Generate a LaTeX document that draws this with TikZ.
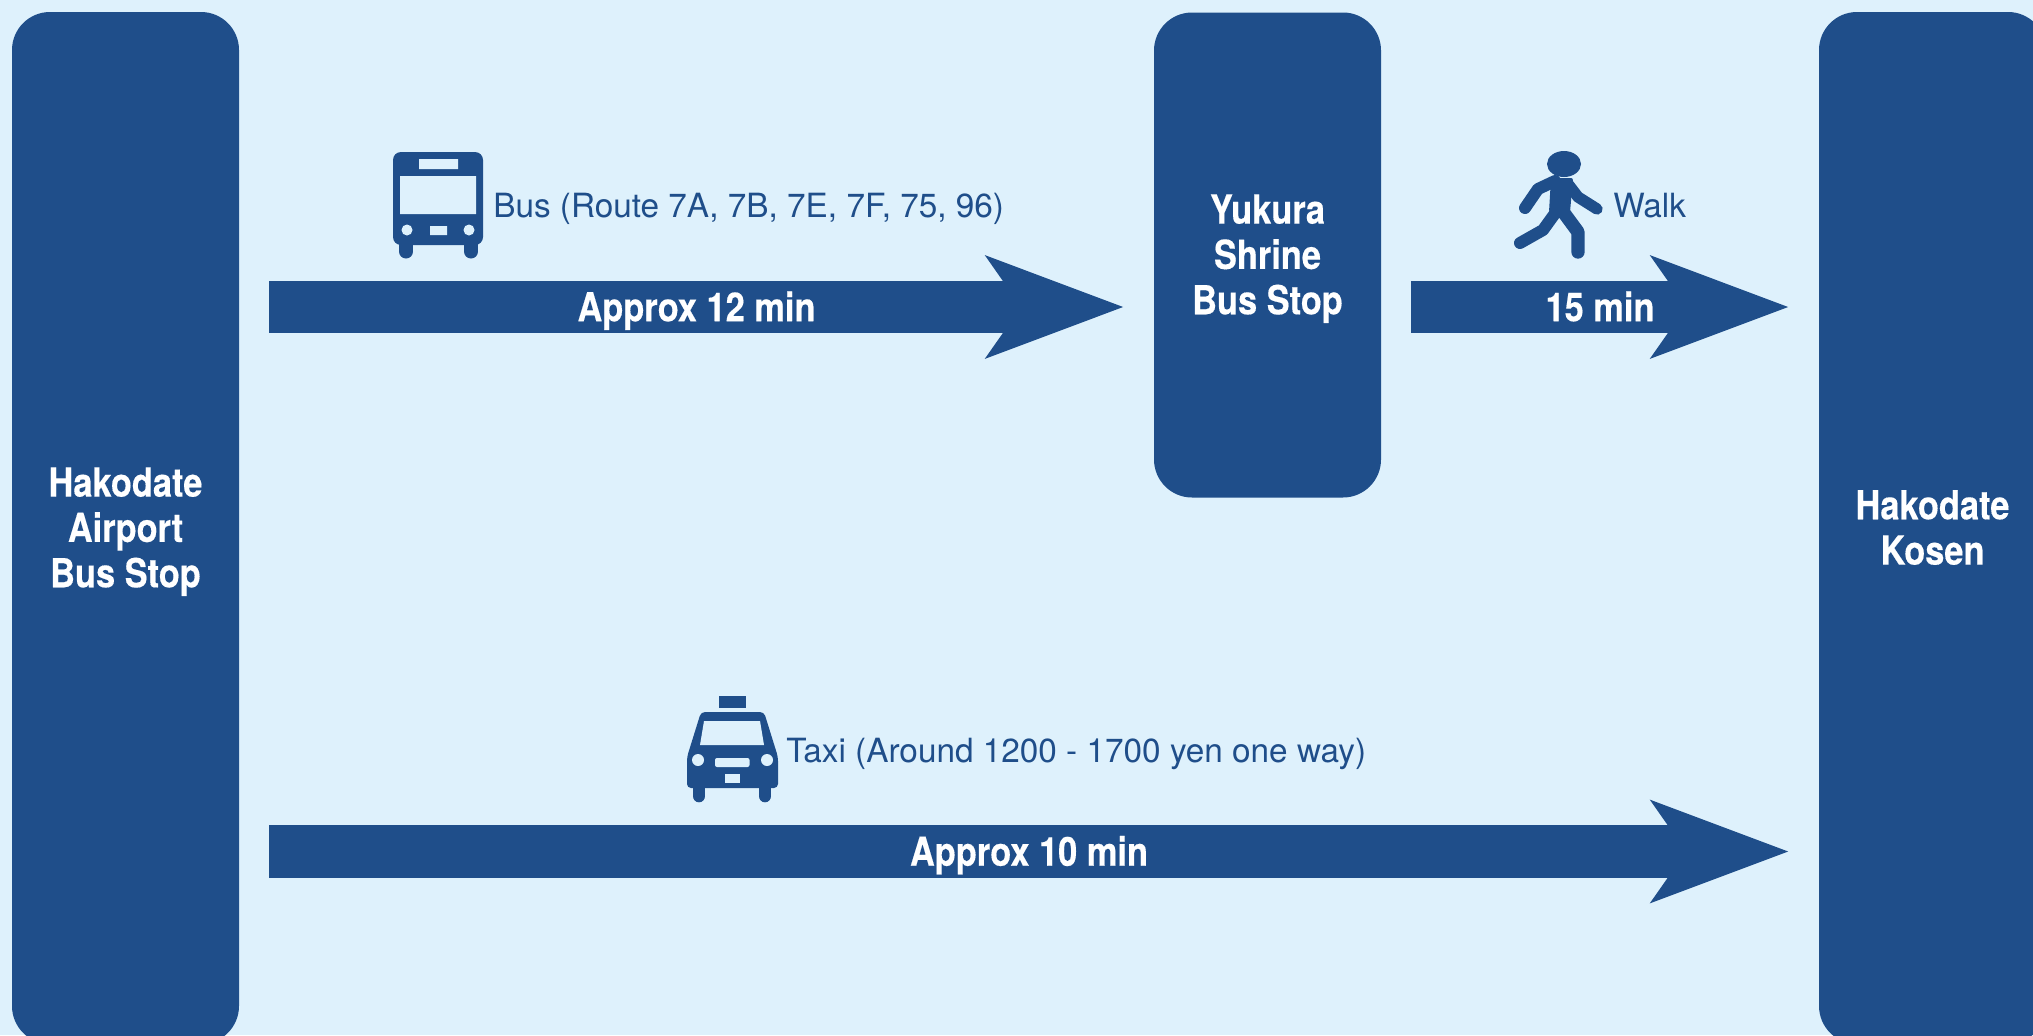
\documentclass[tikz,border=0pt]{standalone}
\usepackage{fontspec}
\usepackage{tikz}
\usetikzlibrary{arrows.meta}
\setmainfont{TeX Gyre Heros}
\newfontfamily\labelfont[BoldFeatures={FakeStretch=0.86,FakeBold=0.3}]{TeX Gyre Heros}
\definecolor{navyblue}{RGB}{31,78,138}
\definecolor{paleblue}{RGB}{222,241,252}
\tikzset{
  stop box/.style={
    fill=navyblue, text=white, rounded corners=28.5pt, inner sep=0pt,
    minimum width=170.25pt, align=center, text depth=1pt,
    font=\labelfont\bfseries\fontsize{30}{34}\selectfont
  },
  run arrow/.style={
    navyblue, line width=39.5pt,
    -{Stealth[length=102pt,width=74.5pt,inset=25pt]}
  },
  run label/.style={
    text=white, inner sep=0pt, text depth=1pt,
    font=\labelfont\bfseries\fontsize{30}{34}\selectfont
  },
  mode label/.style={
    text=navyblue, anchor=west, inner sep=0pt, text height=18pt, text depth=0pt,
    font=\fontsize{25}{30}\selectfont
  },
  limb/.style={
    draw=navyblue, line cap=round, line join=round
  }
}
\begin{document}
\begin{tikzpicture}[x=0.75pt,y=0.75pt,yscale=-1,xscale=1]
\useasboundingbox (0,0) rectangle (2033,1035);
\fill [paleblue] (0,0) rectangle (2033,1035);

% Stops
\node (airport) [stop box, minimum height=774pt] at (125.5,528) {Hakodate\\Airport\\Bus Stop};
\node (shrine) [stop box, minimum height=363.75pt] at (1267.5,255) {Yukura\\Shrine\\Bus Stop};
\node (kosen) [stop box, minimum height=774pt] at (1932.5,528) {Hakodate\\Kosen};

% Free ends of the arrows
\coordinate (busstart) at (269,307);
\coordinate (busend) at (1124,307);
\coordinate (walkstart) at (1411,307);
\coordinate (walkend) at (1789,307);
\coordinate (taxistart) at (269,851.5);
\coordinate (taxiend) at (1789,851.5);

% Arrows
\draw [run arrow] (busstart) -- (busend) node (busmin) [run label, midway] {Approx 12 min};
\draw [run arrow] (walkstart) -- (walkend) node (walkmin) [run label, midway] {15 min};
\draw [run arrow] (taxistart) -- (taxiend) node (taximin) [run label, midway] {Approx 10 min};

% Text Node
\node (buslabel) [mode label] at (493,205) {Bus (Route 7A, 7B, 7E, 7F, 75, 96)};
\node (walklabel) [mode label] at (1613,205) {Walk};
\node (taxilabel) [mode label] at (786,750) {Taxi (Around 1200 - 1700 yen one way)};

%Shape: bus icon
\draw [limb, line width=10.5pt] (406,245) -- (406,251.5) (471,245) -- (471,251.5);
\fill [navyblue, rounded corners=6pt] (393,152) rectangle (483,245);
\fill [paleblue] (419,159) rectangle (458,169) (400,176) rectangle (476,214) (430,226) rectangle (447,235);
\fill [paleblue] (407,230) circle (5.5) (469,230) circle (5.5);

%Shape: walker icon
\fill [navyblue] (1564,164) ellipse (17 and 13);
\fill [navyblue, rounded corners=1.5pt] (1551,178) -- (1573,178) -- (1570,212) -- (1549,212) -- cycle;
\draw [limb, line width=9pt] (1525,208) -- (1538,189) -- (1555,181);
\draw [limb, line width=8.5pt] (1597,209) -- (1578,197) -- (1568,184);
\draw [limb, line width=9pt] (1556,212) -- (1543,230) -- (1520,243);
\draw [limb, line width=10pt] (1564,213) -- (1578,232) -- (1578,252);

%Shape: taxi icon
\fill [navyblue] (719,696) rectangle (746,708);
\draw [limb, line width=9.5pt] (699,785) -- (699,796) (765,785) -- (765,796);
\fill [navyblue, rounded corners=3pt] (701,712) -- (764,712) -- (778,757) -- (778,788) -- (687,788) -- (687,757) -- cycle;
\fill [paleblue] (704,721) -- (760,721) -- (764,745) -- (700,745) -- cycle;
\fill [paleblue, rounded corners=1.5pt] (715,758) rectangle (749.5,767);
\fill [paleblue] (725,774) rectangle (740,783);
\fill [paleblue] (698,760) circle (6) (767,760) circle (6);
\end{tikzpicture}
\end{document}
